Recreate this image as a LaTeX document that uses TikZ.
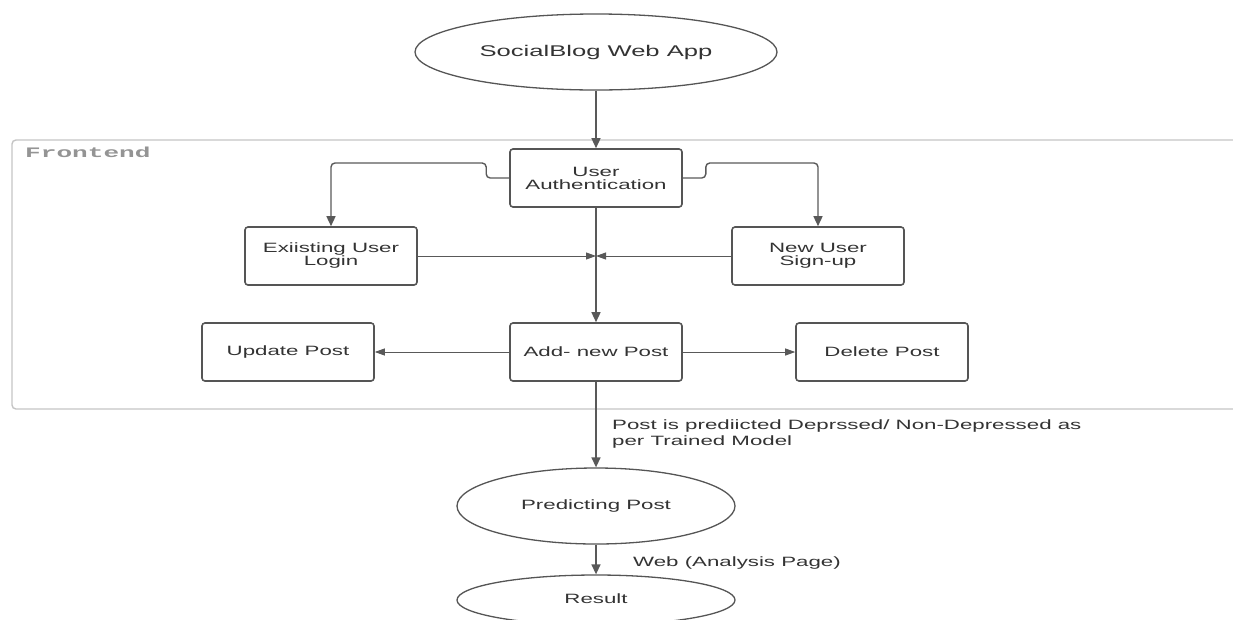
\documentclass[tikz,border=0pt]{standalone}
\usepackage{fontspec}
\setmainfont{Liberation Sans}[FakeStretch=1.65]
\newfontfamily\femono{Liberation Mono}[FakeStretch=1.8,BoldFont={* Bold}]
\usetikzlibrary{arrows.meta,shapes.geometric}
\definecolor{ln}{HTML}{595959}
\definecolor{bd}{HTML}{555555}
\definecolor{fr}{HTML}{C4C4C4}
\definecolor{tx}{HTML}{333333}
\tikzset{
  boxn/.style={draw=bd,line width=1.6pt,rounded corners=3pt,minimum width=172pt,minimum height=58pt,inner sep=0pt,align=center,text=tx,font=\fontsize{13.5}{15}\selectfont},
  ell/.style={draw=bd,line width=1.3pt,ellipse,inner sep=0pt,text=tx,font=\fontsize{13.5}{15}\selectfont},
  arr/.style={draw=ln,line width=1.4pt,-{Triangle[length=10pt,width=9pt]}},
  harr/.style={draw=ln,line width=0.9pt,-{Triangle[length=10pt,width=7pt]}},
  lbl/.style={text=tx,font=\fontsize{13.5}{16}\selectfont,inner sep=0pt,align=left},
}
\begin{document}
\begin{tikzpicture}[x=1pt,y=-1pt]
\useasboundingbox (0,0) rectangle (1233,619);
\begin{scope}
\clip (0,0) rectangle (1233,619);
% frontend container
\draw[fr,line width=1.4pt,rounded corners=4pt] (12,140) rectangle (1245,409);
\node[anchor=west,inner sep=0pt,text=black!42,font=\femono\bfseries\fontsize{14.5}{16}\selectfont] (fe) at (25,152) {Frontend};
% nodes
\node[ell,minimum width=362pt,minimum height=76pt,font=\fontsize{15.5}{17}\selectfont] (app) at (596,52) {SocialBlog Web App};
\node[boxn] (ua) at (596,178) {User\\[-2pt]Authentication};
\node[boxn] (login) at (331,256) {Exiisting User\\[-2pt]Login};
\node[boxn] (sign) at (818,256) {New User\\[-2pt]Sign-up};
\node[boxn] (add) at (596,352) {Add- new Post};
\node[boxn] (upd) at (288,352) {Update Post};
\node[boxn] (del) at (882,352) {Delete Post};
\node[ell,minimum width=278pt,minimum height=76pt] (pred) at (596,506) {Predicting Post};
\node[ell,minimum width=278pt,minimum height=50pt] (res) at (596,600) {\raisebox{3pt}{Result}};
% connectors
\draw[arr] (app) -- (ua);
\draw[arr,rounded corners=4pt] (ua.west) -- ++(-23,0) -- ++(0,-15) -| (login.north);
\draw[arr,rounded corners=4pt] (ua.east) -- ++(23,0) -- ++(0,-15) -| (sign.north);
\draw[arr] (ua) -- (add);
\coordinate (j) at (login.east -| ua.south);
\draw[harr] (login.east) -- (j);
\draw[harr] (sign.west) -- (j);
\draw[harr] (add) -- (upd);
\draw[harr] (add) -- (del);
\draw[arr] (add) -- (pred);
\draw[arr] (pred) -- (res);
% labels
\node[lbl,anchor=north west] (l1) at (612,420) {Post is prediicted Deprssed/ Non-Depressed as\\per Trained Model};
\node[lbl,anchor=west] (l2) at (633,563) {Web (Analysis Page)};
\end{scope}
\end{tikzpicture}
\end{document}
